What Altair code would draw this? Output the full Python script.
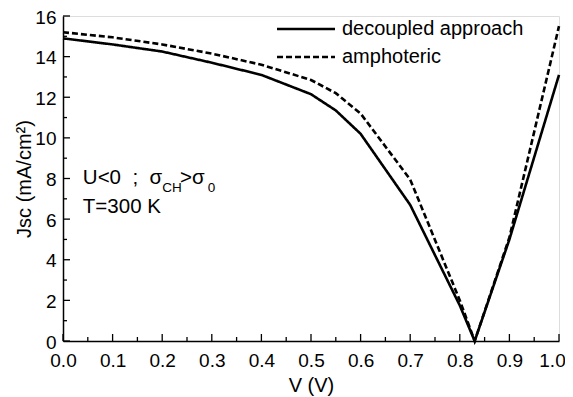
import altair as alt
import pandas as pd

# ---- data ----
V = [0.0, 0.1, 0.2, 0.3, 0.4, 0.5, 0.55, 0.6, 0.7, 0.8, 0.83, 0.9, 1.0]
decoupled = [14.9, 14.6, 14.25, 13.7, 13.1, 12.15, 11.35, 10.2, 6.7, 1.75, 0.0, 5.0, 13.1]
amphoteric = [15.2, 14.95, 14.6, 14.15, 13.6, 12.85, 12.2, 11.2, 7.95, 2.0, 0.0, 5.1, 15.5]
series_names = ["decoupled approach", "amphoteric"]

x_major = [round(0.1 * i, 2) for i in range(11)]
x_minor = [round(0.05 + 0.1 * i, 2) for i in range(10)]
y_major = [0, 2, 4, 6, 8, 10, 12, 14, 16]
y_minor = [1, 3, 5, 7, 9, 11, 13, 15]

NB = "\u00a0"
ann_text = ["U<0" + NB * 2 + ";" + NB * 2 + "σ", "CH", ">σ", "0", "T=300 K"]
ann_v = [0.04, 0.2, 0.236, 0.292, 0.04]
ann_j = [7.73, 7.34, 7.73, 7.34, 6.31]
ann_size = [20.5, 13.5, 20.5, 13.5, 20.5]

FONT = "Liberation Sans"
W, H = 496, 325

rows = []
for name, vals in zip(series_names, [decoupled, amphoteric]):
    for i, (v, j) in enumerate(zip(V, vals)):
        rows.append({"V": v, "J": j, "series": name, "order": i})
df = pd.DataFrame(rows)

xs = alt.Scale(domain=[0, 1], nice=False, zero=False)
ys = alt.Scale(domain=[0, 16], nice=False)

xaxis = alt.Axis(values=x_major, format=".1f", ticks=False, tickSize=0, grid=False,
                 labelFont=FONT, labelFontSize=19, labelColor="black", labelPadding=10,
                 labelOffset=alt.condition("datum.value >= 1", alt.value(-7), alt.value(0)),
                 title="V (V)", titleFont=FONT, titleFontSize=20, titleFontWeight="normal",
                 titleColor="black", titlePadding=5, domainColor="black", domainWidth=1.5,
                 labelFlush=False)
yaxis = alt.Axis(values=y_major, format="d", ticks=False, tickSize=0, grid=False,
                 labelFont=FONT, labelFontSize=19, labelColor="black", labelPadding=7,
                 labelOffset=1,
                 title="Jsc (mA/cm²)", titleFont=FONT, titleFontSize=20, titleFontWeight="normal",
                 titleColor="black", titlePadding=0, domainColor="black", domainWidth=1.5,
                 labelFlush=False)

lines = alt.Chart(df).mark_line(color="black", strokeWidth=2.6).encode(
    x=alt.X("V:Q", scale=xs, axis=xaxis),
    y=alt.Y("J:Q", scale=ys, axis=yaxis),
    strokeDash=alt.StrokeDash(
        "series:N",
        scale=alt.Scale(domain=series_names, range=[[1, 0], [6, 3]]),
        legend=alt.Legend(
            title=None, orient="none", legendX=233, legendY=3,
            symbolType="M-4,0H4", symbolSize=210, symbolStrokeColor="black",
            symbolFillColor="transparent", symbolStrokeWidth=2.6,
            labelFont=FONT, labelFontSize=20, labelColor="black", labelLimit=400,
            labelOffset=26, rowPadding=8,
        ),
    ),
    order="order:Q",
)

tick_x_major = alt.Chart(pd.DataFrame({"t": x_major})).mark_rule(color="black", strokeWidth=1.3).encode(
    x=alt.X("t:Q", scale=xs), y=alt.value(H), y2=alt.value(H - 7))
tick_x_minor = alt.Chart(pd.DataFrame({"t": x_minor})).mark_rule(color="black", strokeWidth=1.3).encode(
    x=alt.X("t:Q", scale=xs), y=alt.value(H), y2=alt.value(H - 4))
tick_y_major = alt.Chart(pd.DataFrame({"t": y_major})).mark_rule(color="black", strokeWidth=1.3).encode(
    y=alt.Y("t:Q", scale=ys), x=alt.value(0), x2=alt.value(7))
tick_y_minor = alt.Chart(pd.DataFrame({"t": y_minor})).mark_rule(color="black", strokeWidth=1.3).encode(
    y=alt.Y("t:Q", scale=ys), x=alt.value(0), x2=alt.value(4))

ann_df = pd.DataFrame({"text": ann_text, "V": ann_v, "J": ann_j, "size": ann_size})
ann = alt.Chart(ann_df).mark_text(font=FONT, color="black", align="left", baseline="alphabetic").encode(
    x=alt.X("V:Q", scale=xs), y=alt.Y("J:Q", scale=ys), text="text:N",
    size=alt.Size("size:Q", scale=None, legend=None))

chart = alt.layer(tick_x_major, tick_x_minor, tick_y_major, tick_y_minor, lines, ann).properties(
    width=W, height=H,
    autosize=alt.AutoSizeParams(type="none"),
    padding={"left": 55, "top": 8, "right": 6, "bottom": 56},
).configure_view(stroke="black", strokeWidth=1.5).configure(background="white")

chart.save("out.html", embed_options={"renderer": "svg", "actions": False})
